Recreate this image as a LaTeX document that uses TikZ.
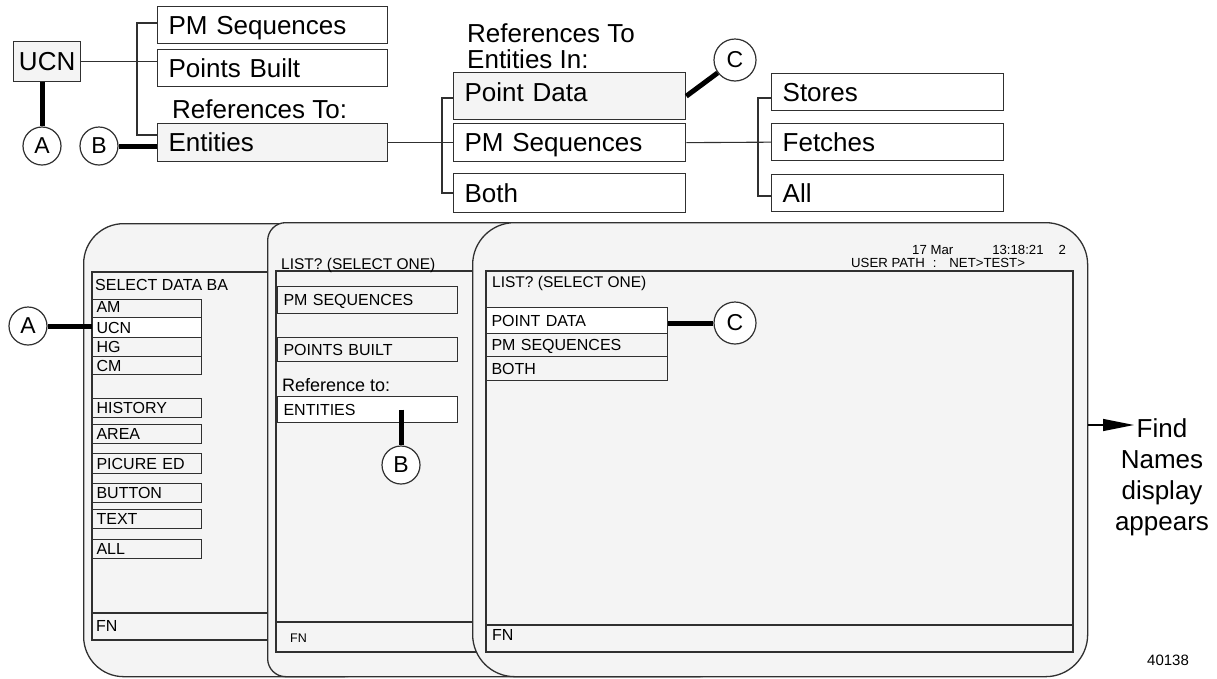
\documentclass[tikz,border=0pt]{standalone}
\usepackage{fontspec}
\setmainfont{Liberation Sans}
\usetikzlibrary{arrows.meta}
\definecolor{linec}{HTML}{303030}
\definecolor{paneg}{HTML}{F4F4F4}
\newcommand\fsz[1]{\fontsize{#1}{#1}\selectfont}
\begin{document}
\begin{tikzpicture}[x=1pt,y=-1pt,
  ln/.style={draw=linec,line width=1.1pt},
  thk/.style={draw=black,line width=5pt},
  tbox/.style={draw=linec,line width=1.3pt,fill=white,anchor=north west,inner xsep=11pt,inner ysep=0pt,text width=208pt,align=left,font=\fsz{26},text height=18.6pt,text depth=0pt,minimum height=37pt},
  sbox/.style={draw=linec,line width=1.1pt,fill=paneg,anchor=north west,inner ysep=0pt,align=left,font=\fsz{16},text height=11.5pt,text depth=0pt},
  sa/.style={sbox,inner xsep=4pt,text width=101pt},
  sb/.style={sbox,inner xsep=6pt,text width=168pt},
  sc/.style={sbox,inner xsep=5pt,text width=171pt},
  lbl/.style={anchor=base west,inner sep=0pt},
  circ/.style={circle,draw=linec,line width=1.2pt,fill=white,minimum size=38pt,inner sep=0pt,font=\fsz{23}},
  scr/.style={draw=linec,line width=1.3pt,fill=paneg,anchor=north west,inner sep=0pt},
  pnl/.style={draw=linec,line width=1.1pt,fill=paneg}
]
\useasboundingbox (0,0) rectangle (1217,678);

% ---------- top tree ----------
\node[draw=linec,line width=1.3pt,fill=paneg,minimum width=67pt,minimum height=40pt,inner sep=0pt,anchor=north west,font=\fsz{26},text height=18.6pt,text depth=0pt] (ucn) at (13,41) {UCN};
\node[tbox] (pm1) at (157,6) {PM Sequences};
\node[tbox] (pb1) at (157,49) {Points Built};
\node[lbl,font=\fsz{26}] (rt1) at (172,118) {References To:};
\node[tbox,fill=paneg,minimum height=38pt] (en1) at (157,123) {Entities};

\node[lbl,font=\fsz{26},align=left] (rt2) at (467,68) {References To\\Entities In:};
\node[tbox,fill=paneg,minimum height=47pt,text width=210pt,text depth=7pt] (pd1) at (453,72) {Point Data};
\node[tbox,text width=210pt,minimum height=38pt] (ps1) at (453,123) {PM Sequences};
\node[tbox,text width=210pt,minimum height=39pt] (bo1) at (453,173) {Both};

\node[tbox,text width=210pt] (st1) at (771,73) {Stores};
\node[tbox,text width=210pt] (fe1) at (771,123) {Fetches};
\node[tbox,text width=210pt] (al1) at (771,174) {All};

\draw[ln] (ucn.east) -- (ucn.east -| pb1.west);
\coordinate (b1t) at (137,23);
\coordinate (b1b) at (137,135);
\draw[ln] (b1t -| pm1.west) -- (b1t) -- (b1b) -- (b1b -| en1.west);
\draw[ln] (en1.east) -- (ps1.west);
\coordinate (b2t) at (442,98);
\coordinate (b2b) at (442,193);
\draw[ln] (b2t -| pd1.west) -- (b2t) -- (b2b) -- (b2b -| bo1.west);
\draw[ln] (ps1.east) -- (fe1.west);
\coordinate (b3t) at (758,98);
\coordinate (b3b) at (758,196);
\draw[ln] (b3t -| st1.west) -- (b3t) -- (b3b) -- (b3b -| al1.west);

\node[circ] (A1) at (42,146) {A};
\node[circ] (B1) at (99,146) {B};
\node[circ,minimum size=42pt] (C1) at (735,60) {C};
\draw[thk] (A1 |- ucn.south) -- (A1);
\draw[thk] (B1) -- (B1 -| en1.west);
\draw[thk] (pd1.east) -- (C1);

% ---------- screen 1 ----------
\node[scr,rounded corners=40pt,minimum width=300pt,minimum height=453pt] (scr1) at (83,223) {};
\draw[pnl] (92,272) rectangle (330,640);
\draw[ln] (92,613) -- (330,613);
\node[lbl,font=\fsz{16}] (sdb) at (95,290) {SELECT DATA BA};
\node[sa,minimum height=18pt,text depth=3pt] (s1am) at (92,299) {AM};
\node[sa,minimum height=20pt,fill=white] (s1ucn) at (92,317) {UCN};
\node[sa,minimum height=19pt] (s1hg) at (92,337) {HG};
\node[sa,minimum height=18pt] (s1cm) at (92,356) {CM};
\node[sa,minimum height=19pt] (s1hi) at (92,398) {HISTORY};
\node[sa,minimum height=19pt] (s1ar) at (92,424) {AREA};
\node[sa,minimum height=20pt] (s1pi) at (92,453) {PICURE ED};
\node[sa,minimum height=19pt] (s1bu) at (92,483) {BUTTON};
\node[sa,minimum height=19pt] (s1te) at (92,509) {TEXT};
\node[sa,minimum height=19pt] (s1al) at (92,539) {ALL};
\node[lbl,font=\fsz{16}] (fn1) at (96,631) {FN};
\node[circ] (A2) at (28,326) {A};
\draw[thk] (A2) -- (A2 -| s1ucn.west);

% ---------- screen 2 ----------
\node[scr,rounded corners=18pt,minimum width=450pt,minimum height=454pt] (scr2) at (267,222) {};
\draw[pnl] (276,271) rectangle (530,652);
\draw[ln] (276,622) -- (530,622);
\node[lbl,font=\fsz{15.5}] (ls2) at (281,269) {LIST? (SELECT ONE)};
\node[sb,minimum height=27pt] (s2pm) at (277,286) {PM SEQUENCES};
\node[sb,minimum height=24pt] (s2pb) at (277,337) {POINTS BUILT};
\node[lbl,font=\fsz{18}] (rf2) at (282,391) {Reference to:};
\node[sb,minimum height=26pt,fill=white] (s2en) at (277,396) {ENTITIES};
\node[lbl,font=\fsz{12.5}] (fn2) at (290,642) {FN};
\node[circ] (B2) at (401,465) {B};
\draw[thk] (B2 |- s2en.center) -- (B2);

% ---------- screen 3 ----------
\node[scr,rounded corners=42pt,minimum width=615pt,minimum height=454pt] (scr3) at (472,222) {};
\draw[pnl] (486,271) rectangle (1073,652);
\draw[ln] (486,625) -- (1073,625);
\node[lbl,font=\fsz{13.2}] (dt3) at (912,254) {17 Mar\hspace{39pt}13:18:21\hspace{15pt}2};
\node[lbl,font=\fsz{13.2}] (up3) at (851,267) {USER PATH\hspace{8pt}:\hspace{13pt}NET>TEST>};
\node[lbl,font=\fsz{15.5}] (ls3) at (492,287) {LIST? (SELECT ONE)};
\node[sc,minimum height=26pt,fill=white] (s3pd) at (486,307) {POINT DATA};
\node[sc,minimum height=23pt] (s3ps) at (486,333) {PM SEQUENCES};
\node[sc,minimum height=24pt] (s3bo) at (486,356) {BOTH};
\node[lbl,font=\fsz{16}] (fn3) at (492,640) {FN};
\node[circ,minimum size=42pt] (C2) at (735,323) {C};
\draw[thk] (C2 -| s3pd.east) -- (C2);

% ---------- right side ----------
\coordinate (tip) at (1134,425);
\node[anchor=base,inner sep=0pt,align=center,font=\fontsize{26}{31}\selectfont] (find) at (1162,530) {Find\\Names\\display\\appears};
\draw[line width=1.3pt,-{Triangle[length=31pt,width=12pt]}] (tip -| scr3.east) -- (tip);
\node[lbl,font=\fsz{15}] (num) at (1147,665) {40138};
\end{tikzpicture}
\end{document}
